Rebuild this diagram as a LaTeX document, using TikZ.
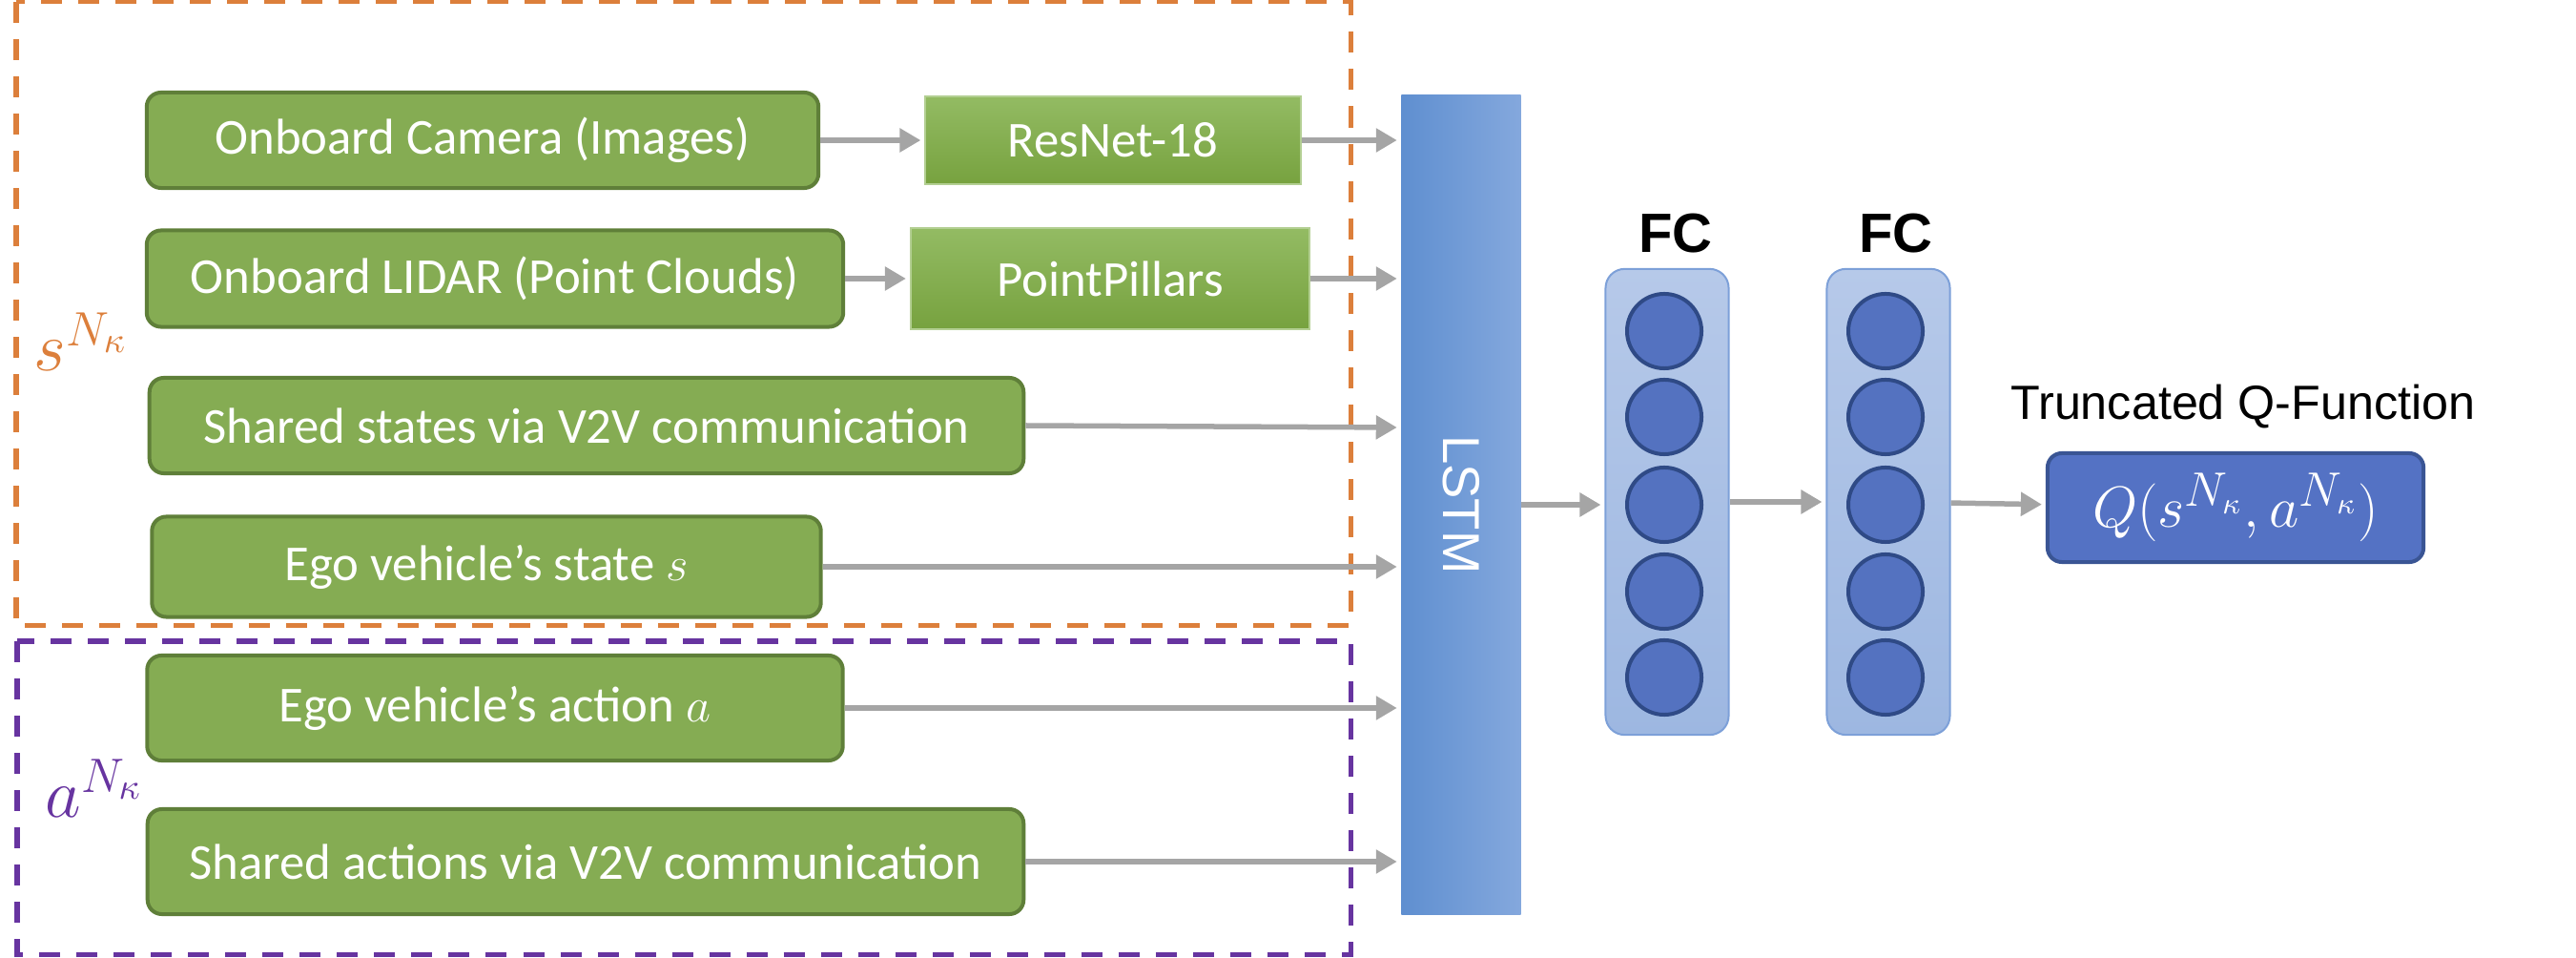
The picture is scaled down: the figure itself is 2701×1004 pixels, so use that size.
\documentclass[tikz,border=0pt]{standalone}
\usepackage{fontspec}
\setmainfont{Carlito}
\newfontfamily\arialfont{Liberation Sans}
\usetikzlibrary{arrows.meta}

\definecolor{vertbox}{HTML}{85AC53}
\definecolor{vertbord}{HTML}{5F7F39}
\definecolor{verthaut}{HTML}{93BB63}
\definecolor{vertbas}{HTML}{77A23F}
\definecolor{gristrait}{HTML}{A5A5A5}
\definecolor{orangecad}{HTML}{DC7F3B}
\definecolor{violetcad}{HTML}{6734A0}
\definecolor{bleulstmg}{HTML}{5F8FD0}
\definecolor{bleulstmd}{HTML}{84A8DD}
\definecolor{bleufch}{HTML}{B6C9E9}
\definecolor{bleufcb}{HTML}{9DB7E1}
\definecolor{bleufcbord}{HTML}{7DA0D8}
\definecolor{bleuneur}{HTML}{5472C0}
\definecolor{bleuneurbord}{HTML}{2F4A86}
\definecolor{bleuq}{HTML}{5472C4}
\definecolor{bleuqbord}{HTML}{3A5594}

\begin{document}
\begin{tikzpicture}[x=0.01cm, y=-0.01cm,
    entree/.style={draw=vertbord, line width=0.04cm, fill=vertbox, rounded corners=0.15cm,
        text=white, font=\fontsize{15}{18}\selectfont, inner sep=0pt},
    reseau/.style={draw=verthaut!70!white, line width=0.02cm, top color=verthaut, bottom color=vertbas,
        text=white, font=\fontsize{15}{18}\selectfont, inner sep=0pt},
    fleche/.style={-{Triangle[length=0.22cm, width=0.24cm]}, draw=gristrait, line width=0.055cm,
        shorten >=0.04cm},
    cadre/.style={dash pattern=on 0.22cm off 0.17cm, line width=0.05cm},
    couche/.style={draw=bleufcbord, line width=0.02cm, top color=bleufch, bottom color=bleufcb,
        rounded corners=0.2cm, minimum width=1.29cm, minimum height=4.88cm, inner sep=0pt},
    neurone/.style={circle, draw=bleuneurbord, line width=0.04cm, fill=bleuneur,
        minimum size=0.78cm, inner sep=0pt},
    titre/.style={font=\arialfont\fontsize{14.3}{17}\selectfont, inner sep=0pt}]

    \useasboundingbox (0,0) rectangle (2701,1004);

    % Cadres pointilles
    \draw[cadre, orangecad] (17,2) rectangle (1416,656);
    \draw[cadre, violetcad] (18,672) rectangle (1416,1000);
    \node[text=orangecad, font=\fontsize{21}{25}\selectfont] (ls) at (85,358) {$s^{N_\kappa}$};
    \node[text=violetcad, font=\fontsize{21}{25}\selectfont] (la) at (99,826) {$a^{N_\kappa}$};

    % Entrees
    \node[entree, minimum width=7.04cm, minimum height=1cm] (cam) at (506,147) {Onboard Camera (Images)};
    \node[entree, minimum width=7.3cm, minimum height=1.01cm] (lidar) at (519,292) {Onboard LIDAR (Point Clouds)};
    \node[entree, minimum width=9.16cm, minimum height=1cm] (sstates) at (615,446) {Shared states via V2V communication};
    \node[entree, minimum width=7.01cm, minimum height=1.05cm] (egos) at (510,594) {Ego vehicle's state $s$};
    \node[entree, minimum width=7.29cm, minimum height=1.1cm] (egoa) at (519,742) {Ego vehicle's action $a$};
    \node[entree, minimum width=9.18cm, minimum height=1.1cm] (sactions) at (614,903) {Shared actions via V2V communication};

    % Extracteurs
    \node[reseau, minimum width=3.93cm, minimum height=0.92cm] (resnet) at (1167,147) {ResNet-18};
    \node[reseau, minimum width=4.18cm, minimum height=1.05cm] (pillars) at (1164,292) {PointPillars};

    % LSTM
    \node[left color=bleulstmg, right color=bleulstmd, minimum width=1.25cm, minimum height=8.58cm,
        inner sep=0pt] (lstm) at (1532,529) {};
    \node[titre, text=white, font=\arialfont\fontsize{15.5}{18}\selectfont, rotate=-90] (lstmtxt) at (lstm) {LSTM};

    % Couches FC
    \node[couche] (fc1) at (1748,526) {};
    \node[couche] (fc2) at (1980,526) {};
    \node[titre, font=\arialfont\bfseries\fontsize{16.5}{19}\selectfont] (tfc1) at (1757,245) {FC};
    \node[titre, font=\arialfont\bfseries\fontsize{16.5}{19}\selectfont] (tfc2) at (1988,245) {FC};
    \foreach \i/\y in {1/347, 2/437, 3/529, 4/620, 5/710} {
        \node[neurone] (na\i) at (1745,\y) {};
        \node[neurone] (nb\i) at (1977,\y) {};
    }

    % Sortie
    \node[draw=bleuqbord, line width=0.04cm, fill=bleuq, rounded corners=0.15cm, text=white,
        minimum width=3.94cm, minimum height=1.14cm, font=\fontsize{19}{22}\selectfont] (q) at (2344,532)
        {$Q(s^{N_\kappa}, a^{N_\kappa})$};
    \node[titre] (tq) at (2352,426) {Truncated Q-Function};

    % Fleches
    \draw[fleche] (cam) -- (resnet);
    \draw[fleche] (lidar) -- (pillars);
    \draw[fleche] (resnet) -- (resnet -| lstm.west);
    \draw[fleche] (pillars) -- (pillars -| lstm.west);
    \draw[fleche] (sstates.east) -- ([yshift=-0.02cm]sstates.east -| lstm.west);
    \draw[fleche] (egos) -- (egos -| lstm.west);
    \draw[fleche] (egoa) -- (egoa -| lstm.west);
    \draw[fleche] (sactions) -- (sactions -| lstm.west);
    \draw[fleche] (lstm) -- (lstm -| fc1.west);
    \draw[fleche] (fc1) -- (fc2);
    \draw[fleche] (fc2) -- (q);
\end{tikzpicture}
\end{document}
